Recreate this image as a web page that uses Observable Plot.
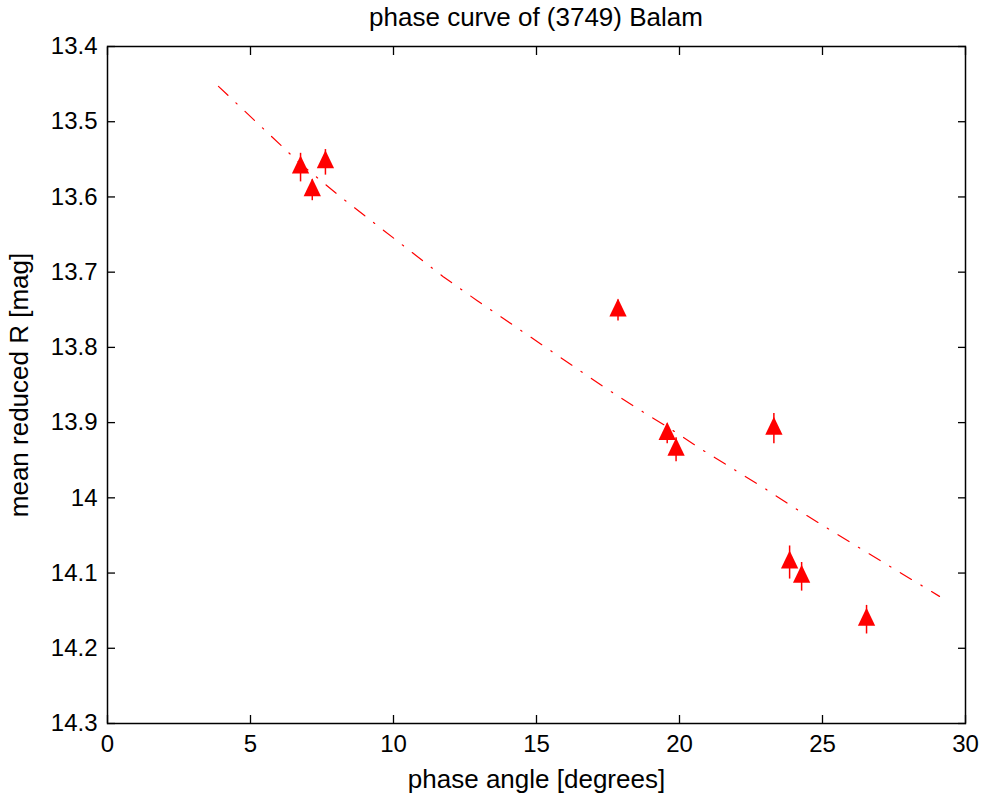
<!DOCTYPE html>
<html><head><meta charset="utf-8">
<script src="https://cdn.jsdelivr.net/npm/d3@7"></script>
<script src="https://cdn.jsdelivr.net/npm/@observablehq/plot@0.6"></script>
<style>
body{margin:0;background:#fff;font-family:"Liberation Sans",Arial,sans-serif;}
#title{height:30px;line-height:34px;font-size:26px;text-align:center;padding-left:107px;padding-right:20px;width:858px;color:#000;}
</style></head><body>
<div id="title">phase curve of (3749) Balam</div>
<div id="chart"></div>
<script>
// observations: phase angle [deg], mean reduced R [mag], error [mag]
const phaseAngle = [6.75, 7.62, 7.16, 17.85, 19.57, 19.88, 23.30, 23.85, 24.27, 26.54];
const reducedR   = [13.561, 13.554, 13.591, 13.751, 13.915, 13.936, 13.908, 14.086, 14.105, 14.162];
const errR       = [0.019, 0.017, 0.014, 0.014, 0.013, 0.016, 0.020, 0.022, 0.019, 0.019];
// fitted phase curve
const fitAngle = [3.88, 6.75, 8.15, 11.74, 12.93, 17.41, 18.52, 19.63, 20.79, 23.04, 24.17, 26.44, 29.09];
const fitR     = [13.453, 13.556, 13.600, 13.706, 13.738, 13.854, 13.881, 13.907, 13.936, 13.989, 14.017, 14.070, 14.131];
// axis ticks
const xTicks = [0, 5, 10, 15, 20, 25, 30];
const yTicks = [13.4, 13.5, 13.6, 13.7, 13.8, 13.9, 14.0, 14.1, 14.2, 14.3];

const pts = phaseAngle.map((a, i) => ({a, r: reducedR[i], e: errR[i]}));
const fit = fitAngle.map((a, i) => ({a, r: fitR[i]}));

const tri = {
  draw(ctx, size) {
    const r = Math.sqrt(size / Math.PI);
    ctx.moveTo(0, -1.5 * r);
    ctx.lineTo(1.08 * r, 0.75 * r);
    ctx.lineTo(-1.08 * r, 0.75 * r);
    ctx.closePath();
  }
};
const fmt = d => String(+d.toFixed(1));
const blank = () => "";

const chart = Plot.plot({
  width: 985, height: 766,
  marginLeft: 107, marginRight: 20, marginTop: 16, marginBottom: 73,
  style: {fontFamily: '"Liberation Sans", Arial, sans-serif', fontSize: "24px", color: "black", background: "white", overflow: "visible"},
  x: {domain: [0, 30]},
  y: {domain: [13.4, 14.3], reverse: true},
  marks: [
    Plot.axisX(xTicks, {anchor: "bottom", tickSize: 0, tickPadding: 11, fontSize: 24, label: null}),
    Plot.axisX({anchor: "bottom", ticks: [], tickSize: 0, fontSize: 26, label: "phase angle [degrees]", labelAnchor: "center", labelOffset: 64, labelArrow: "none"}),
    Plot.axisX(xTicks, {anchor: "bottom", tickSize: -8, tickFormat: blank, label: null, strokeWidth: 1.3}),
    Plot.axisX(xTicks, {anchor: "top", tickSize: -8, tickFormat: blank, label: null, strokeWidth: 1.3}),
    Plot.axisY(yTicks, {anchor: "left", tickSize: 0, tickPadding: 10, tickFormat: fmt, fontSize: 24, label: null}),
    Plot.axisY({anchor: "left", ticks: [], tickSize: 0, fontSize: 26, label: "mean reduced R [mag]", labelAnchor: "center", labelOffset: 98, labelArrow: "none"}),
    Plot.axisY(yTicks, {anchor: "left", tickSize: -8, tickFormat: blank, label: null, strokeWidth: 1.3}),
    Plot.axisY(yTicks, {anchor: "right", tickSize: -8, tickFormat: blank, label: null, strokeWidth: 1.3}),
    Plot.line(fit, {x: "a", y: "r", stroke: "red", strokeWidth: 1.2, strokeDasharray: "13,11,1.5,11"}),
    Plot.ruleX(pts, {x: "a", y1: d => d.r - d.e, y2: d => d.r + d.e, stroke: "red", strokeWidth: 1.5}),
    Plot.dot(pts, {x: "a", y: "r", r: 8, symbol: tri, fill: "red", stroke: "none"}),
    Plot.frame({stroke: "black", strokeWidth: 1.5})
  ]
});
document.getElementById("chart").appendChild(chart);
</script></body></html>
